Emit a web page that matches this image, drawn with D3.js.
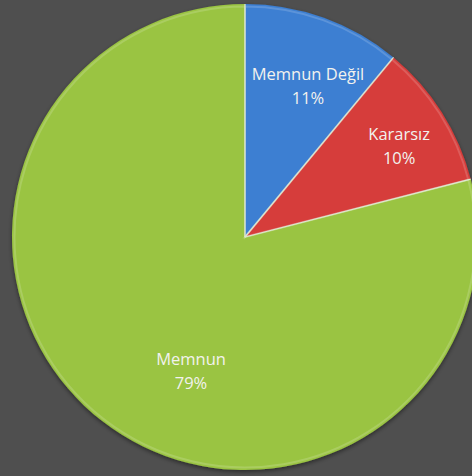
<!DOCTYPE html>
<html><head><meta charset="utf-8">
<script src="https://cdn.jsdelivr.net/npm/d3@7"></script>
<style>html,body{margin:0;padding:0;background:#4f4f4f;overflow:hidden}</style>
</head><body>
<svg id="c" width="472" height="476"></svg>
<script>
const categories = ["Memnun Değil", "Kararsız", "Memnun"];
const values = [11, 10, 79];
const colors = ["#3c7fd2", "#d63c3a", "#9ac443"];
// label placement: [radius fraction, angle shift in degrees]
const labelPlace = [[0.706, 2.7], [0.771, 1.5], [0.616, -15.7]];

const W = 472, H = 476, cx = 245, cy = 237, R = 233;
const svg = d3.select("#c");
svg.append("rect").attr("width", W).attr("height", H).attr("fill", "#4f4f4f");
const defs = svg.append("defs");
const f = defs.append("filter").attr("id", "sh").attr("x", "-10%").attr("y", "-10%").attr("width", "120%").attr("height", "120%");
f.append("feDropShadow").attr("dx", 0).attr("dy", 2).attr("stdDeviation", 2).attr("flood-color", "#000").attr("flood-opacity", 0.45);

const g = svg.append("g").attr("transform", `translate(${cx},${cy})`);
const pie = d3.pie().sort(null).value(d => d);
const arcs = pie(values);
const arc = d3.arc().innerRadius(0).outerRadius(R);
const arcIn = d3.arc().innerRadius(0).outerRadius(R - 2.5);

g.append("g").attr("filter", "url(#sh)")
  .selectAll("path.s").data(arcs).join("path").attr("class", "s")
  .attr("d", arc).attr("fill", (d, i) => colors[i]);
// subtle bevel highlight
g.selectAll("path.b").data(arcs).join("path").attr("class", "b")
  .attr("d", arcIn).attr("fill", "none")
  .attr("stroke", "rgba(255,255,255,0.16)").attr("stroke-width", 2);
// radial separators
g.selectAll("line.sep").data(arcs).join("line").attr("class", "sep")
  .attr("x1", 0).attr("y1", 0)
  .attr("x2", d => R * Math.sin(d.startAngle)).attr("y2", d => -R * Math.cos(d.startAngle))
  .attr("stroke", "#dfe8cf").attr("stroke-width", 1.2);

g.selectAll("text").data(arcs).join("text")
  .attr("transform", (d, i) => {
    const a = (d.startAngle + d.endAngle) / 2 + labelPlace[i][1] * Math.PI / 180;
    const r = R * labelPlace[i][0];
    return `translate(${r * Math.sin(a)},${-r * Math.cos(a)})`;
  })
  .attr("text-anchor", "middle")
  .attr("font-family", "Open Sans, sans-serif").attr("font-size", 16.5)
  .attr("fill", "#f2f2ee")
  .each(function (d, i) {
    const t = d3.select(this);
    t.append("tspan").attr("x", 0).attr("dy", "-0.3em").text(categories[i]);
    t.append("tspan").attr("x", 0).attr("dy", "1.45em").text(values[i] + "%");
  });
</script>
</body></html>
